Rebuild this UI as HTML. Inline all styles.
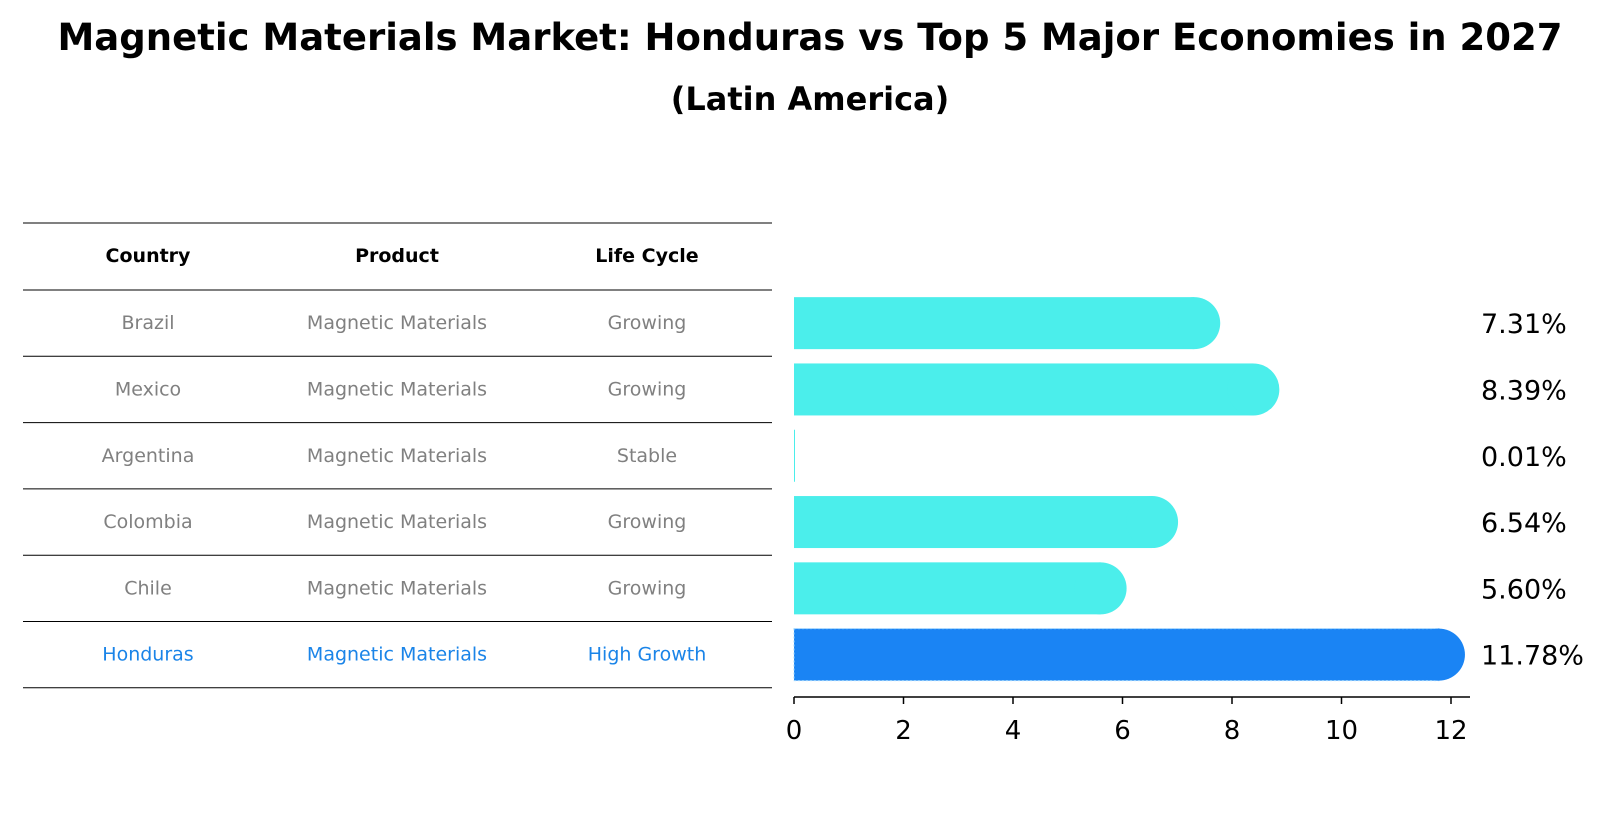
<!DOCTYPE html>
<html><head><meta charset="utf-8"><style>
body{margin:0;background:#fff;font-family:"DejaVu Sans","Liberation Sans",sans-serif;}
</style></head><body>
<svg width="1619" height="823" xmlns="http://www.w3.org/2000/svg" font-family="DejaVu Sans, Liberation Sans, sans-serif" id="chart">
<text x="810" y="50" text-anchor="middle" font-size="37" font-weight="bold">Magnetic Materials Market: Honduras vs Top 5 Major Economies in 2027</text>
<text x="810" y="110" text-anchor="middle" font-size="32" font-weight="bold">(Latin America)</text>
<g id="table"></g>
<g id="bars"></g>
<g id="axis"></g>
</svg>
<script>
const countries=["Brazil","Mexico","Argentina","Colombia","Chile","Honduras"];
const products=["Magnetic Materials","Magnetic Materials","Magnetic Materials","Magnetic Materials","Magnetic Materials","Magnetic Materials"];
const lifeCycles=["Growing","Growing","Stable","Growing","Growing","High Growth"];
const values=[7.31,8.39,0.01,6.54,5.60,11.78];
const ticks=[0,2,4,6,8,10,12];
const NS="http://www.w3.org/2000/svg";
function mk(tag,attrs,parent,txt){const e=document.createElementNS(NS,tag);for(const k in attrs)e.setAttribute(k,attrs[k]);if(txt!==undefined)e.textContent=txt;parent.appendChild(e);return e;}
const x0=794,pxPer=54.75;
const xs=v=>x0+v*pxPer;
const rowTop=290,rowH=66.3;
const yc=i=>rowTop+rowH*(i+0.5);
const table=document.getElementById('table');
const colX=[148,397,647];
for(let k=0;k<=7;k++){const y=k===0?223:rowTop+rowH*(k-1);
 const l=mk('line',{x1:23,x2:772,y1:y,y2:y,stroke:'#000','stroke-width':1},table);
 
 }
["Country","Product","Life Cycle"].forEach((h,j)=>{
 const t=mk('text',{x:colX[j],y:262,'text-anchor':'middle','font-size':19,'font-weight':'bold'},table,h);
 
 });
countries.forEach((c,i)=>{
 const col=c==="Honduras"?'#1a84e8':'#808080';
 [c,products[i],lifeCycles[i]].forEach((v,j)=>{
  const t=mk('text',{x:colX[j],y:yc(i)+6,'text-anchor':'middle','font-size':19,fill:col},table,v);
  
  });
});
const bars=document.getElementById('bars');
const bh=52,r=26;
values.forEach((v,i)=>{
 const hl=countries[i]==="Honduras";
 const col=hl?'#1a84f4':'#4beeeb';
 const y=yc(i)-bh/2, xe=xs(v);
 const g=mk('g',{},bars);
 
 
 mk('rect',{x:x0,y:y,width:Math.max(xe-x0,1),height:bh,fill:col,stroke:hl?'#9fd8ff':'none','stroke-dasharray':hl?'2,2':'none'},g);
 if(v>0.5) mk('circle',{cx:xe,cy:yc(i),r:r,fill:col},g);
 const t=mk('text',{x:1481,y:yc(i)+10,'font-size':27},bars,v.toFixed(2)+'%');
 
 
});
const ax=document.getElementById('axis');
mk('line',{x1:x0,x2:1470,y1:697,y2:697,stroke:'#000','stroke-width':1.5},ax);
ticks.forEach(tk=>{
 mk('line',{x1:xs(tk),x2:xs(tk),y1:697,y2:704,stroke:'#000','stroke-width':1.5},ax);
 const t=mk('text',{x:xs(tk),y:739,'text-anchor':'middle','font-size':26},ax,String(tk));
 
 
});
</script>
</body></html>
